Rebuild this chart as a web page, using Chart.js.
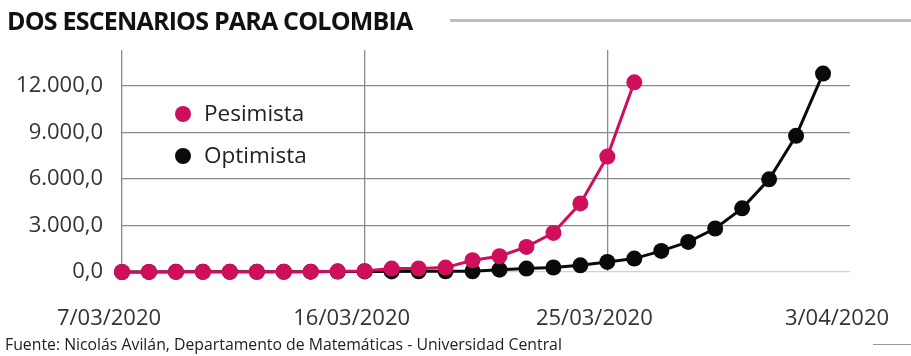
<!DOCTYPE html>
<html>
<head>
<meta charset="utf-8">
<script src="https://cdn.jsdelivr.net/npm/chart.js@4.4.1/dist/chart.umd.min.js"></script>
<style>
  body { margin: 0; background: #fff; font-family: "Open Sans", sans-serif; }
  #wrap { position: relative; width: 911px; height: 356px; overflow: hidden; }
  #title { position: absolute; left: 7px; top: 3px; font-weight: 700; font-size: 25px; letter-spacing: -0.8px; color: #111; }
  #titleLine { position: absolute; left: 450px; right: 0; top: 19px; height: 3px; background: #bdbdbd; }
  #source { position: absolute; left: 5px; top: 333px; font-size: 15.8px; color: #222; }
  #srcLine { position: absolute; left: 873px; right: 0; top: 344px; height: 1px; background: #999; }
  .leg { position: absolute; left: 175px; font-size: 22.5px; color: #222; }
  .leg span { display: inline-block; width: 16px; height: 16px; border-radius: 50%; margin-right: 13px; vertical-align: -1px; }
  canvas { position: absolute; left: 0; top: 0; }
</style>
</head>
<body>
<div id="wrap">
  <canvas id="escenarios" width="911" height="356"></canvas>
  <div id="title">DOS ESCENARIOS PARA COLOMBIA</div>
  <div id="titleLine"></div>
  <div class="leg" style="top:97px"><span style="background:#cf0f5b"></span>Pesimista</div>
  <div class="leg" style="top:139px"><span style="background:#0a0a0a"></span>Optimista</div>
  <div id="source">Fuente: Nicolás Avilán, Departamento de Matemáticas - Universidad Central</div>
  <div id="srcLine"></div>
</div>
<script>
// dias del 7/03/2020 al 3/04/2020
const dias = ['7/03/2020','8/03/2020','9/03/2020','10/03/2020','11/03/2020','12/03/2020','13/03/2020',
  '14/03/2020','15/03/2020','16/03/2020','17/03/2020','18/03/2020','19/03/2020','20/03/2020',
  '21/03/2020','22/03/2020','23/03/2020','24/03/2020','25/03/2020','26/03/2020','27/03/2020',
  '28/03/2020','29/03/2020','30/03/2020','31/03/2020','1/04/2020','2/04/2020','3/04/2020']

const pesimista = [1, 3, 9, 9, 9, 13, 16, 24, 45, 65, 220, 225, 285, 756, 1015, 1617, 2520, 4420, 7435, 12220]
const optimista = [1, 3, 9, 9, 9, 13, 16, 24, 30, 35, 40, 45, 48, 50, 150, 220, 290, 430, 650, 865,
  1360, 1940, 2800, 4100, 5970, 8770, 12780]

const yTicks = [0, 3000, 6000, 9000, 12000]
const xTickEvery = 9

const fontTicks = { family: "'Open Sans', sans-serif", size: 22 }

function fmt(v) {
    let s = Math.round(v).toString().replace(/\B(?=(\d{3})+(?!\d))/g, '.')
    return s + ',0'
}

const canvas = document.getElementById('escenarios')
new Chart(canvas, {
    type: 'line',
    data: {
        labels: dias,
        datasets: [{
            label: 'Pesimista',
            data: pesimista,
            borderColor: '#cf0f5b',
            backgroundColor: '#cf0f5b',
            borderWidth: 3,
            pointRadius: 8,
            pointBorderWidth: 0,
            order: 0,
            clip: false
        }, {
            label: 'Optimista',
            data: optimista,
            borderColor: '#0a0a0a',
            backgroundColor: '#0a0a0a',
            borderWidth: 3,
            pointRadius: 8,
            pointBorderWidth: 0,
            order: 1,
            clip: false
        }]
    },
    options: {
        responsive: false,
        animation: false,
        layout: { padding: { top: 50, right: 61, left: 0, bottom: 0 } },
        plugins: { legend: { display: false }, tooltip: { enabled: false } },
        scales: {
            x: {
                border: { display: false },
                grid: {
                    drawTicks: false,
                    lineWidth: 1.3,
                    color: ctx => (ctx.index % xTickEvery === 0 && ctx.index < dias.length - 1) ? '#8a8a8a' : 'rgba(0,0,0,0)'
                },
                ticks: {
                    autoSkip: false,
                    maxRotation: 0,
                    padding: 34,
                    labelOffset: -13,
                    color: '#333',
                    font: fontTicks,
                    callback: function(v, i) { return i % xTickEvery === 0 ? dias[i] : '' }
                },
                afterFit: s => { s.height = 84; s.paddingLeft = 0; s.paddingRight = 0 }
            },
            y: {
                min: 0,
                max: 14300,
                border: { display: false },
                afterBuildTicks: s => { s.ticks = yTicks.map(v => ({ value: v })) },
                grid: {
                    drawTicks: false,
                    lineWidth: 1.3,
                    color: ctx => ctx.tick && ctx.tick.value === 0 ? '#d0d0d0' : '#8a8a8a'
                },
                ticks: {
                    padding: 19,
                    color: '#333',
                    font: fontTicks,
                    callback: v => fmt(v)
                },
                afterFit: s => { s.width = 122 }
            }
        }
    }
})
</script>
</body>
</html>
